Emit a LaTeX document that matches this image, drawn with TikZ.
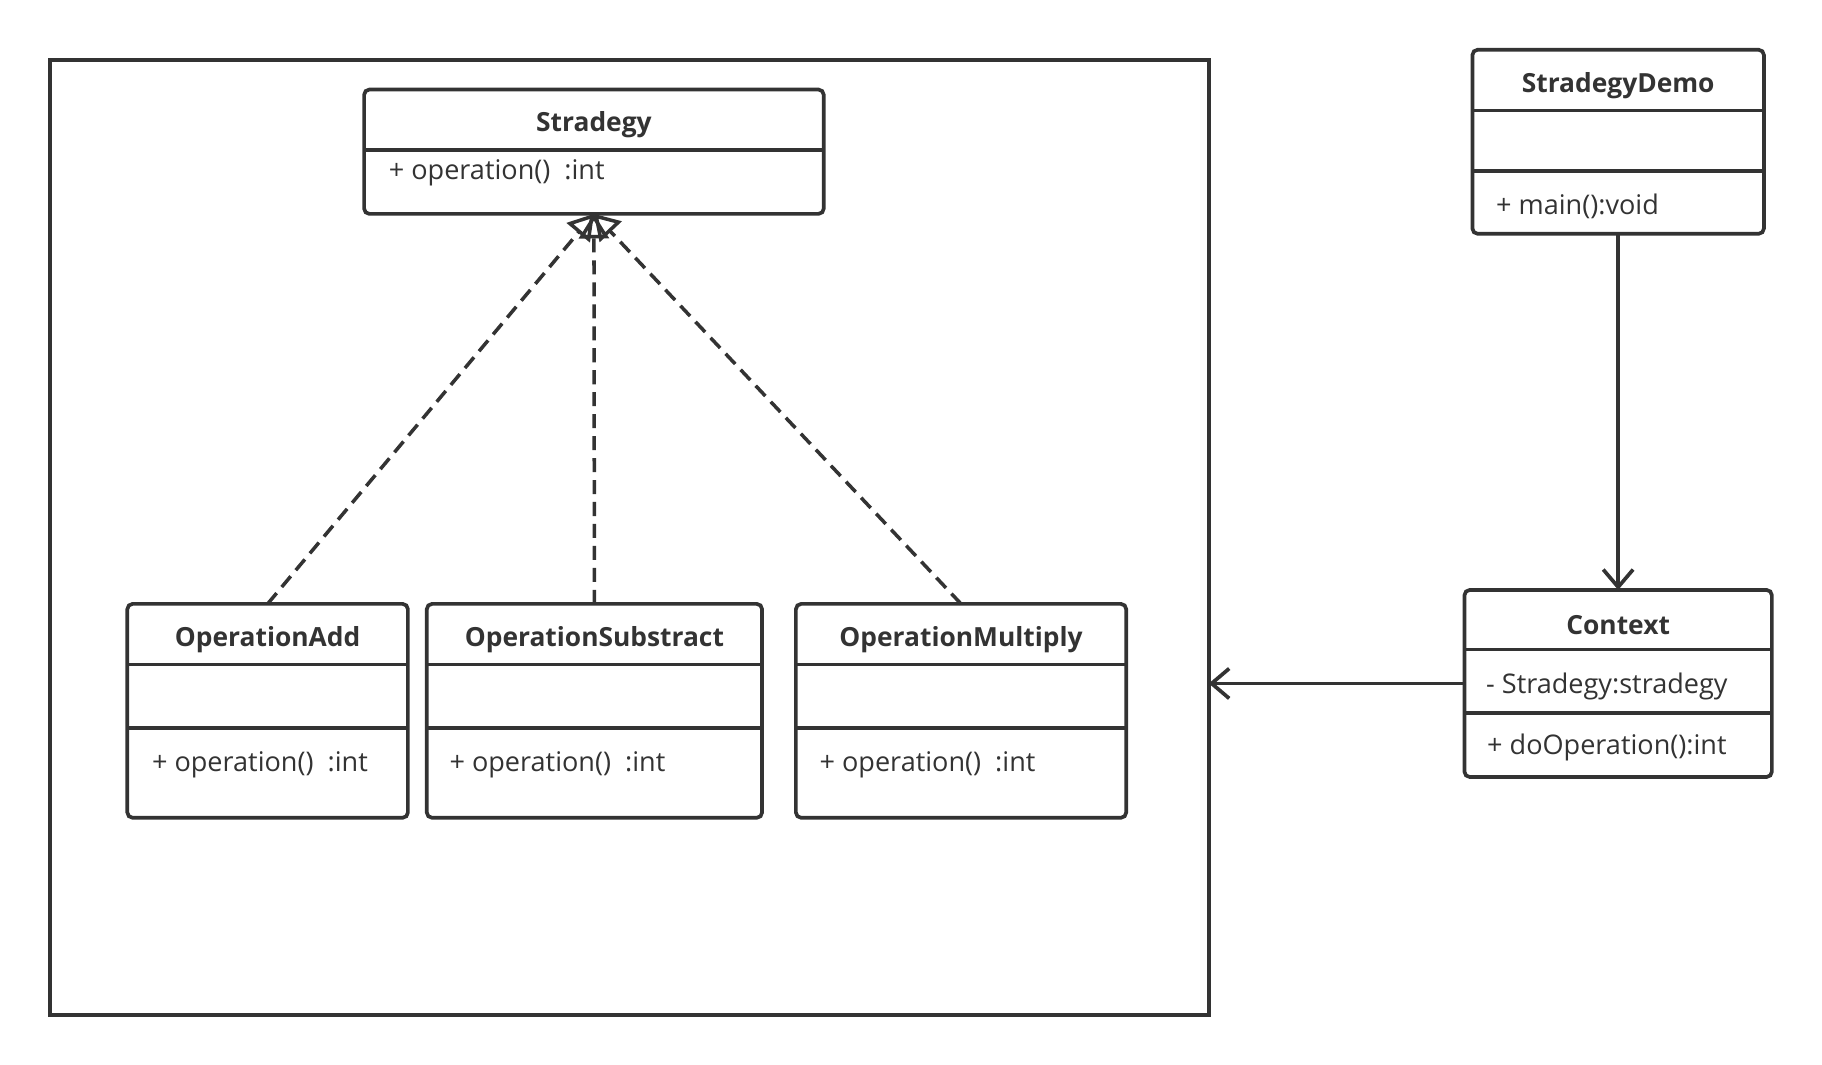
\documentclass[tikz,border=0pt]{standalone}
\usepackage{fontspec}
\setmainfont{Open Sans}
\usepackage{xcolor}
\usepackage{tikz}
\usetikzlibrary{arrows.meta,positioning}
\definecolor{ink}{HTML}{333333}

\begin{document}
\begin{tikzpicture}[x=0.199mm, y=-0.199mm, line width=2.1pt, draw=ink, text=ink,
  font=\fontsize{15.4}{18}\selectfont]
\tikzset{
  cls/.style={draw=ink, line width=2.1pt, rounded corners=3pt, anchor=north west, inner sep=0pt, outer sep=0pt},
  title/.style={font=\fontsize{15}{18}\selectfont\bfseries},
  member/.style={anchor=west, inner sep=0pt},
  realize/.style={line width=2pt, dash pattern=on 8pt off 4.5pt, -{Triangle[open, length=14pt, width=17pt]}},
  assoc/.style={-{Straight Barb[length=10pt, width=17pt]}}
}
\useasboundingbox (0,0) rectangle (1831.4,1069.5);
\node[cls, rounded corners=0pt, minimum width=1165*0.199mm, minimum height=960*0.199mm] (pkg) at (50,60) {};
% class boxes
\node[cls, minimum width=462*0.199mm, minimum height=125*0.199mm] (strat) at (366,90) {};
\node[cls, minimum width=282*0.199mm, minimum height=215*0.199mm] (add) at (128,607) {};
\node[cls, minimum width=337*0.199mm, minimum height=215*0.199mm] (sub) at (429,607) {};
\node[cls, minimum width=332*0.199mm, minimum height=215*0.199mm] (mul) at (800,607) {};
\node[cls, minimum width=293*0.199mm, minimum height=185*0.199mm] (demo) at (1480,50) {};
\node[cls, minimum width=309*0.199mm, minimum height=188*0.199mm] (ctx) at (1472,593) {};
% dividers
\draw (strat.west |- 0,151) -- (strat.east |- 0,151);
\draw (add.west |- 0,668) -- (add.east |- 0,668);
\draw (add.west |- 0,732) -- (add.east |- 0,732);
\draw (sub.west |- 0,668) -- (sub.east |- 0,668);
\draw (sub.west |- 0,732) -- (sub.east |- 0,732);
\draw (mul.west |- 0,668) -- (mul.east |- 0,668);
\draw (mul.west |- 0,732) -- (mul.east |- 0,732);
\draw (demo.west |- 0,111) -- (demo.east |- 0,111);
\draw (demo.west |- 0,172) -- (demo.east |- 0,172);
\draw (ctx.west |- 0,653) -- (ctx.east |- 0,653);
\draw (ctx.west |- 0,717) -- (ctx.east |- 0,717);
% texts
\node[title] (strattitle) at (597,125) {Stradegy};
\node[member] (stratop) at (389,174) {+ operation()~~:int};
\node[title] (addtitle) at (269,643) {OperationAdd};
\node[member] (addop) at (151,769) {+ operation()~~:int};
\node[title] (subtitle) at (597.5,643) {OperationSubstract};
\node[member] (subop) at (450,769) {+ operation()~~:int};
\node[title] (multitle) at (966,643) {OperationMultiply};
\node[member] (mulop) at (822,769) {+ operation()~~:int};
\node[title] (demotitle) at (1626.5,86) {StradegyDemo};
\node[member] (demoop) at (1502,207) {+ main():void};
\node[title] (ctxtitle) at (1626.5,628) {Context};
\node[member] (ctxattr) at (1492,690) {- Stradegy:stradegy};
\node[member] (ctxop) at (1493,751) {+ doOperation():int};
% connectors
\draw[realize] (add.north) -- (strat.south);
\draw[realize] (sub.north) -- (strat.south);
\draw[realize] (mul.north) -- (strat.south);
\draw[assoc] (demo.south) -- (ctx.north);
\draw[assoc] (ctx.west) -- (ctx.west -| pkg.east);
\end{tikzpicture}
\end{document}
